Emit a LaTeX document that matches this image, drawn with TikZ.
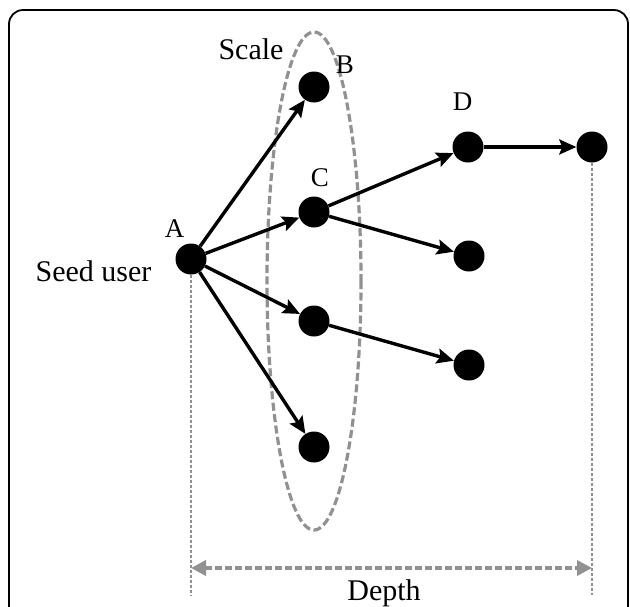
\documentclass[tikz,border=0pt]{standalone}
\usepackage{fontspec}
\setmainfont{Liberation Serif}
\usetikzlibrary{arrows.meta}
\definecolor{dgray}{RGB}{145,145,145}
\begin{document}
\begin{tikzpicture}[x=1pt,y=-1pt,
  dot/.style={circle,fill=black,inner sep=0pt,minimum size=31pt},
  edge/.style={line width=3.4pt,-{Stealth[length=17pt,width=15pt,inset=3pt]}},
  lbl/.style={font=\fontsize{27}{27}\selectfont,inner sep=0pt,anchor=base},
  word/.style={font=\fontsize{30}{30}\selectfont,inner sep=0pt,anchor=base},
  guide/.style={dgray,line width=1.6pt,dash pattern=on 3pt off 2pt},
  ell/.style={dgray,line width=3.2pt,dash pattern=on 8pt off 3.5pt}]
\useasboundingbox (0,0) rectangle (630,606);
\draw[line width=1.8pt,rounded corners=14pt] (9,10) rectangle (628,660);
\draw[ell] (314,281) ellipse [x radius=47, y radius=249];
\node[dot] (A) at (191,259) {};
\node[dot] (B) at (314,87) {};
\node[dot] (C) at (314,212) {};
\node[dot] (N3) at (314,321) {};
\node[dot] (N4) at (314,447) {};
\node[dot] (D) at (468,147) {};
\node[dot] (E) at (592,147) {};
\node[dot] (F) at (469,256) {};
\node[dot] (G) at (469,365) {};
\draw[edge] (A) -- (B);
\draw[edge] (A) -- (C);
\draw[edge] (A) -- (N3);
\draw[edge] (A) -- (N4);
\draw[edge] (C) -- (D);
\draw[edge] (C) -- (F);
\draw[edge] (N3) -- (G);
\draw[edge] (D) -- (E);
\node[lbl] (lA) at (174.5,237) {A};
\node[lbl] (lB) at (345,73) {B};
\node[lbl] (lC) at (320,186) {C};
\node[lbl] (lD) at (462.5,110) {D};
\node[word] (lS) at (251,59) {Scale};
\node[word] (lSeed) at (93.5,281) {Seed user};
\node[word] (lDepth) at (384,600) {Depth};
\coordinate (ga) at (191,595);
\coordinate (ge) at (592,595);
\draw[guide] (A) -- (ga);
\draw[guide] (E) -- (ge);
\coordinate (da) at (191,568);
\coordinate (de) at (592,568);
\draw[dgray,line width=3.6pt,dash pattern=on 7pt off 3pt,{Triangle[length=15pt,width=15pt]}-{Triangle[length=15pt,width=15pt]}] (da) -- (de);
\end{tikzpicture}
\end{document}
